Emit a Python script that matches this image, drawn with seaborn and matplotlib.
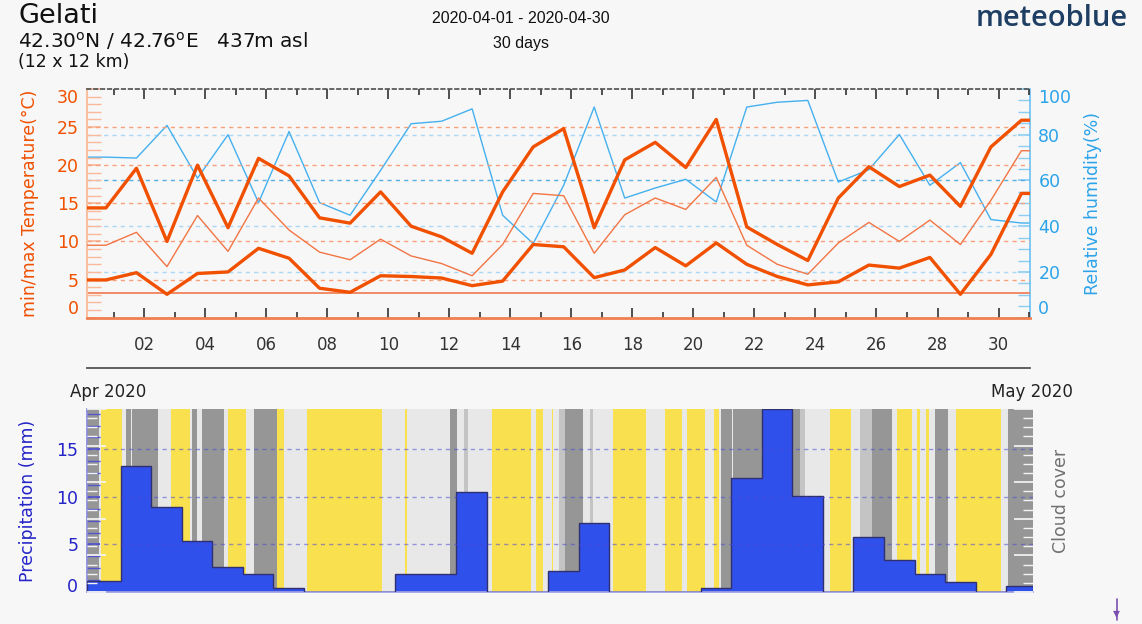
import matplotlib.pyplot as plt
import numpy as np
import pandas as pd
import seaborn as sns

# daily values, 2020-04-01 .. 2020-05-01
temp_max = [14.4, 19.6, 10.0, 20.0, 11.8, 20.9, 18.6, 13.1, 12.4, 16.5, 12.0,
            10.6, 8.45, 16.5, 22.4, 24.8, 11.8, 20.7, 23.0, 19.7, 26.0, 11.9,
            9.6, 7.5, 15.7, 19.8, 17.2, 18.7, 14.6, 22.4, 25.9]
temp_mean = [9.5, 11.2, 6.7, 13.4, 8.7, 15.7, 11.5, 8.6, 7.6, 10.3, 8.1,
             7.1, 5.5, 9.6, 16.3, 16.0, 8.45, 13.5, 15.7, 14.2, 18.4, 9.5,
             7.0, 5.7, 9.8, 12.5, 10.0, 12.8, 9.6, 15.4, 21.9]
temp_min = [4.95, 5.9, 3.07, 5.8, 6.0, 9.1, 7.8, 3.86, 3.33, 5.5, 5.4,
            5.2, 4.2, 4.8, 9.6, 9.3, 5.25, 6.26, 9.2, 6.8, 9.8, 7.0,
            5.4, 4.3, 4.7, 6.9, 6.5, 7.9, 3.07, 8.3, 16.3]
humidity = [70.2, 69.8, 84.1, 61.0, 80.0, 50.3, 81.4, 50.3, 44.8, 64.4, 84.8,
            85.9, 91.3, 44.8, 32.4, 57.9, 92.1, 52.3, 56.7, 60.5, 50.6, 92.1,
            94.2, 95.0, 59.3, 64.7, 80.1, 57.9, 67.8, 42.9, 41.4]
precip = [1.14, 13.2, 8.96, 5.35, 2.58, 1.9, 0.43, 0, 0, 0, 1.87,
          1.87, 10.5, 0, 0, 2.2, 7.3, 0, 0, 0, 0.37, 12.0,
          19.24, 10.1, 0, 5.8, 3.35, 1.87, 1.06, 0, 0.61]
temp_ref = 3.3

day_labels = ["02", "04", "06", "08", "10", "12", "14", "16",
              "18", "20", "22", "24", "26", "28", "30"]

# cloud cover runs: start hour (from 2020-04-01 00:00) and kind
cloud_start = [-21, -11, -10, 7, 10, 14, 15, 35, 45, 60, 62, 66, 70, 87, 90,
               104, 111, 129, 134, 152, 211, 229, 231, 265, 270, 276, 279,
               298, 328, 332, 338, 345, 346, 350, 355, 369, 375, 377, 393,
               419, 434, 447, 451, 465, 472, 476, 478, 486, 487, 540, 544,
               563, 580, 587, 596, 612, 616, 628, 632, 634, 639, 641, 646,
               656, 662, 698, 703]
cloud_kind = ["dark", "light", "sun", "light", "dark", "light", "dark", "light",
              "sun", "light", "dark", "light", "dark", "light", "sun", "light",
              "dark", "sun", "light", "sun", "light", "sun", "light", "dark",
              "light", "mid", "light", "sun", "light", "sun", "light", "sun",
              "light", "mid", "dark", "light", "mid", "light", "sun", "light",
              "sun", "light", "sun", "light", "sun", "light", "dark", "light",
              "dark", "mid", "light", "sun", "light", "mid", "dark", "light",
              "sun", "light", "sun", "light", "sun", "light", "dark", "light",
              "sun", "light", "dark"]
cloud_end = 723

cloud_colors = {"sun": "#f9e04f", "light": "#e8e8e8", "mid": "#c4c4c4", "dark": "#969696"}
BG = "#f7f7f7"
ORANGE = "#f05000"
ORANGE_THIN = "#f27544"
BLUE = "#45b0ef"
PBLUE = "#2f50eb"
NAVY = "#2424c8"

sns.set_theme(style="white")
plt.rcParams["font.family"] = ["DejaVu Sans"]

x0, x1 = -0.87, 30.03
day_pos = np.arange(len(temp_max)) - 0.25


def padded(values):
    """extend the daily series flat to both edges of the plot"""
    x = np.concatenate([[x0], day_pos, [x1]])
    y = np.concatenate([[values[0]], values, [values[-1]]])
    return pd.DataFrame({"x": x, "y": y})


fig = plt.figure(figsize=(11.42, 6.24), dpi=100, facecolor=BG)

# ---- temperature / humidity panel
ax = fig.add_axes([0.0762, 0.4909, 0.8257, 0.3665], facecolor=BG)
ax_h = ax.twinx()

for v in range(5, 30, 5):
    ax.axhline(v, color="#f7a07c", lw=1, ls=(0, (3, 3)), zorder=1)
for v in range(20, 100, 20):
    ax_h.axhline(v, color="#5aaee6" if v == 60 else "#a8d8f5", lw=1, ls=(0, (3, 3)), zorder=1)
ax.axhline(temp_ref, color="#f07850", lw=1.2, zorder=2)

sns.lineplot(data=padded(humidity), x="x", y="y", ax=ax_h, color=BLUE, lw=1, sort=False, zorder=2)
sns.lineplot(data=padded(temp_mean), x="x", y="y", ax=ax, color=ORANGE_THIN, lw=1, sort=False, zorder=3)
sns.lineplot(data=padded(temp_max), x="x", y="y", ax=ax, color=ORANGE, lw=2.4, sort=False, zorder=3)
sns.lineplot(data=padded(temp_min), x="x", y="y", ax=ax, color=ORANGE, lw=2.4, sort=False, zorder=3)
ax.set_zorder(ax_h.get_zorder() + 1)
ax.patch.set_visible(False)

ax.set_xlim(x0, x1)
ax.set_ylim(0, 30)
ax_h.set_ylim(0, 100)

ax.set_xticks(np.arange(1, 30, 2))
ax.set_xticklabels(day_labels)
ax.set_xticks(np.arange(0, 31, 2), minor=True)
ax.tick_params(axis="x", which="major", direction="in", length=7, width=1.2,
               top=True, bottom=True, color="#333333", labelsize=12, labelcolor="#333333", pad=13)
ax.tick_params(axis="x", which="minor", direction="in", length=4, width=1.2,
               top=True, bottom=True, color="#333333")

ax.set_yticks(range(0, 31, 5))
ax.set_yticks(range(0, 31), minor=True)
ax.tick_params(axis="y", which="both", direction="in", length=10, color="#f9b99a",
               labelsize=12.5, labelcolor=ORANGE, pad=6)
ax_h.set_yticks(range(0, 101, 20))
ax_h.set_yticks(range(0, 101, 5), minor=True)
ax_h.tick_params(axis="y", which="both", direction="in", length=9, color="#8ccdf4",
                 labelsize=12.5, labelcolor="#2ba3ea", pad=6)
for axis_labels in (ax.get_yticklabels(), ax_h.get_yticklabels()):
    axis_labels[0].set_va("bottom")
    axis_labels[-1].set_va("top")

ax.set_xlabel("")
ax.set_ylabel("min/max Temperature(°C)", color=ORANGE, fontsize=12.5)
ax.yaxis.set_label_coords(-0.051, 0.5)
ax_h.set_xlabel("")
ax_h.set_ylabel("Relative humidity(%)", color="#2ba3ea", fontsize=12.5)
ax_h.yaxis.set_label_coords(1.0575, 0.5)

ax.spines["top"].set_color("#555555")
ax.spines["top"].set_linestyle((0, (2, 2)))
ax.spines["bottom"].set_color("#f08050")
ax.spines["bottom"].set_linewidth(2)
ax.spines["left"].set_color("#f9c0a0")
ax.spines["left"].set_linewidth(1.5)
ax.spines["right"].set_visible(False)
for s in ("top", "bottom", "left"):
    ax_h.spines[s].set_visible(False)
ax_h.spines["right"].set_color("#6cc0f2")
ax_h.spines["right"].set_linewidth(1.2)

# ---- date line between the panels
ax_d = fig.add_axes([0.0762, 0.4107, 0.8257, 0.0001])
ax_d.patch.set_visible(False)
for s in ("top", "left", "right"):
    ax_d.spines[s].set_visible(False)
ax_d.spines["bottom"].set_color("#555555")
ax_d.spines["bottom"].set_linewidth(1.3)
ax_d.set_xlim(x0, x1)
ax_d.set_xticks([0, 30])
ax_d.set_xticklabels([])
ax_d.set_yticks([])
ax_d.tick_params(axis="x", direction="in", length=6, width=1.2, color="#444444")
fig.text(0.0613, 0.372, "Apr 2020", fontsize=12, color="#222222", va="center", ha="left")
fig.text(0.9396, 0.372, "May 2020", fontsize=12, color="#222222", va="center", ha="right")

# ---- precipitation / cloud cover panel
xb1 = 30.11
ax_p = fig.add_axes([0.0759, 0.0513, 0.8284, 0.2933], facecolor=BG)
ax_c = ax_p.twinx()

for s, e, kind in zip(cloud_start, cloud_start[1:] + [cloud_end], cloud_kind):
    ax_p.axvspan(s / 24, e / 24, color=cloud_colors[kind], lw=0, zorder=0)

edges = np.concatenate([[x0], np.arange(0.24, 29.3, 1.0), [xb1]])
ax_p.stairs(precip, edges, fill=True, color=PBLUE, zorder=2)
ax_p.stairs(precip, edges, fill=False, color="#303070", lw=1, zorder=3)
for v in (5, 10, 15):
    ax_p.axhline(v, color="#4a4ad8", alpha=0.55, lw=1, ls=(0, (3, 3)), zorder=4)

ax_p.set_xlim(x0, xb1)
ax_p.set_ylim(0, max(precip))
ax_p.set_xticks([])
ax_p.set_yticks([0, 5, 10, 15])
ax_p.set_yticks(np.arange(0, 19.5, 1.25), minor=True)
ax_p.tick_params(axis="y", which="both", direction="in", length=9, color="#5555cc",
                 labelsize=12.5, labelcolor=NAVY, pad=6)
ax_p.get_yticklabels()[0].set_va("baseline")
ax_p.set_ylabel("Precipitation (mm)", color=NAVY, fontsize=12.5)
ax_p.yaxis.set_label_coords(-0.052, 0.5)
for s in ("top", "right"):
    ax_p.spines[s].set_visible(False)
ax_p.spines["left"].set_color("#8a8ad8")
ax_p.spines["bottom"].set_color("#a0a0e0")

ax_c.set_ylim(0, 100)
ax_c.set_yticks(range(0, 101, 20))
ax_c.set_yticks(range(0, 101, 5), minor=True)
ax_c.set_yticklabels([])
ax_c.tick_params(axis="y", which="major", direction="in", length=14, color="#f4f4f4", left=True, right=True)
ax_c.tick_params(axis="y", which="minor", direction="in", length=7, color="#f4f4f4", left=True, right=True)
ax_c.set_ylabel("Cloud cover", color="#707070", fontsize=12.5)
ax_c.yaxis.set_label_coords(1.0205, 0.5)
for s in ax_c.spines.values():
    s.set_visible(False)

# ---- header
fig.text(0.0158, 0.975, "Gelati", fontsize=19.5, color="#111111", va="center")
fig.text(0.0158, 0.934, "42.30$^\\mathrm{o}$N / 42.76$^\\mathrm{o}$E   437m asl",
         fontsize=14.5, color="#111111", va="center")
fig.text(0.0158, 0.9006, "(12 x 12 km)", fontsize=12.5, color="#111111", va="center")
fig.text(0.4562, 0.9696, "2020-04-01 - 2020-04-30", fontsize=11.5, color="#111111",
         ha="center", va="center", family=["Liberation Sans", "DejaVu Sans"])
fig.text(0.4562, 0.931, "30 days", fontsize=11.5, color="#111111",
         ha="center", va="center", family=["Liberation Sans", "DejaVu Sans"])
fig.text(0.9877, 0.971, "meteoblue", fontsize=21, color="#1e3f63", ha="right", va="center",
         family=["Open Sans", "DejaVu Sans"], fontweight="semibold")

fig.add_artist(plt.Line2D([0.978, 0.978], [0.006, 0.04], color="#7a4fb0", lw=1.2))
fig.text(0.978, 0.006, "▾", color="#7a4fb0", fontsize=10, ha="center", va="bottom")

fig.savefig("out.png", dpi=100, facecolor=BG)
